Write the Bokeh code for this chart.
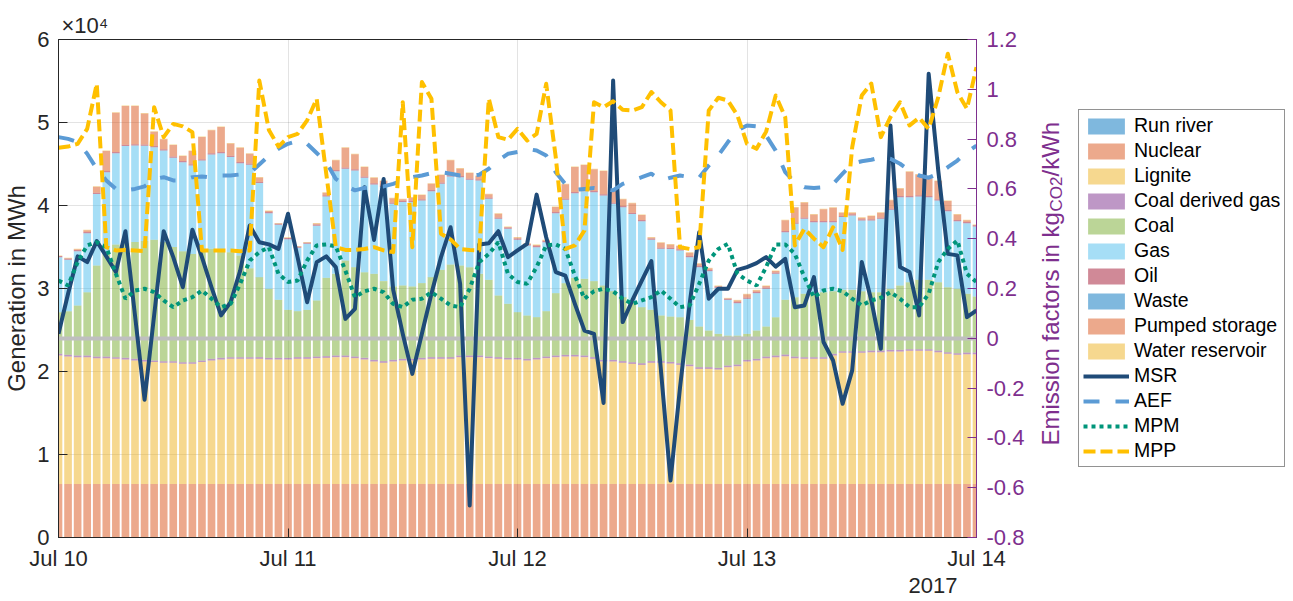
from math import pi
from bokeh.plotting import figure
from bokeh.layouts import row
from bokeh.models import (Range1d, LinearAxis, FixedTicker, Legend, LegendItem,
                          Title, Label, ColumnDataSource)
from bokeh.embed import file_html
from bokeh.resources import INLINE

FONT = "Liberation Sans"
DARK = "#262626"
PURPLE = "#7e2f8e"
NAN = float("nan")

# ---------------- data ----------------
hours = list(range(97))                      # hourly, Jul 10 00:00 .. Jul 14 00:00
day_ticks = [0, 24, 48, 72, 96]
day_labels = ["Jul 10", "Jul 11", "Jul 12", "Jul 13", "Jul 14"]
year_label = "2017"
exponent_label = "\u00d710\u2074"
right_title = ["Emission factors in kg", "CO2", "/kWh"]

left_ticks = [0, 10000, 20000, 30000, 40000, 50000, 60000]
left_tick_labels = ["0", "1", "2", "3", "4", "5", "6"]
right_ticks = [-0.8, -0.6, -0.4, -0.2, 0, 0.2, 0.4, 0.6, 0.8, 1.0, 1.2]
right_tick_labels = ["-0.8", "-0.6", "-0.4", "-0.2", "0", "0.2", "0.4", "0.6", "0.8", "1", "1.2"]
zero_level = [0]

run_river = [0] * 97
nuclear = [6450] * 97
lignite = [15480, 15360, 15280, 15280, 15160, 15160, 15080, 15000, 14880, 14760, 14680, 14600,
           14600, 14470, 14470, 14680, 14880, 15000, 15080, 15080, 15080, 15080, 15000, 15000,
           15000, 15080, 15080, 15160, 15200, 15280, 15280, 15160, 15000, 14760, 14600, 14760,
           14880, 14880, 15000, 15080, 15080, 15080, 15280, 15280, 15280, 15160, 15080, 15000,
           15000, 14880, 15000, 15160, 15280, 15360, 15360, 15280, 15080, 14760, 14760, 14600,
           14470, 14350, 14600, 14600, 14510, 14350, 14190, 13870, 13870, 13790, 14070, 14190,
           14760, 14880, 15160, 15280, 15400, 15160, 15080, 15080, 15080, 15480, 15800, 15800,
           15800, 15880, 15880, 15960, 15960, 16040, 16040, 16040, 15880, 15680, 15560, 15640, 15640]
coal_gas = [200] * 97
coal = [5020, 5260, 6020, 7630, 10960, 12370, 13570, 13820, 14060, 14300, 14540, 14340,
        13740, 13370, 13050, 13250, 13250, 13010, 12650, 12250, 10720, 9640, 8310, 6990,
        5780, 5540, 5700, 6750, 9440, 9840, 11450, 10760, 10320, 10360, 9640, 8840,
        8840, 8720, 9000, 9640, 10520, 11160, 10840, 10640, 9840, 9240, 7430, 6510,
        5500, 5220, 4900, 5460, 7510, 8630, 9280, 9240, 9160, 8960, 8270, 7710,
        7230, 6750, 6190, 5500, 5460, 5540, 5380, 4900, 4420, 4100, 3610, 3490,
        3130, 3410, 3610, 4620, 6590, 7150, 7630, 7710, 7830, 7550, 7390, 7390,
        7230, 7030, 7030, 7350, 7750, 8070, 8350, 8350, 8230, 7830, 7750, 7070, 6750]
gas = [6630, 6190, 6550, 7110, 8630, 9840, 11000, 11690, 11650, 11490, 11160, 11040,
       10760, 10720, 10640, 10840, 11370, 11650, 11450, 11120, 12450, 11330, 9120, 9040,
       8510, 7630, 7950, 9000, 9800, 12370, 11040, 11650, 11370, 10760, 11330, 9960,
       10040, 10160, 9960, 10360, 10360, 10600, 10640, 10520, 11250, 9760, 9240, 9040,
       8720, 8430, 8430, 8310, 9640, 10040, 10200, 10560, 10720, 10840, 10520, 10840,
       10640, 10360, 8430, 8030, 8150, 8030, 7550, 7150, 7150, 5540, 4300, 3900,
       4220, 4500, 4540, 5220, 8150, 8840, 9040, 8550, 8430, 8310, 8760, 8960,
       8510, 8630, 8840, 9520, 10640, 10240, 10040, 9960, 9840, 9160, 8150, 8510, 8430]
oil = [150] * 97
waste = [0] * 97
pumped = [0, 30, 70, 190, 710, 2400, 4730, 4690, 4610, 3730, 1720, 1200,
          1400, 590, 1600, 2680, 2760, 3000, 1480, 1720, 1200, 510, 110, 0,
          30, 0, 0, 110, 310, 1160, 2400, 1800, 1160, 670, 590, 510,
          190, 390, 510, 750, 910, 1800, 910, 670, 390, 390, 470, 70,
          110, 70, 110, 70, 590, 1720, 3000, 3000, 2600, 2800, 1600, 790,
          1120, 590, 110, 590, 390, 390, 390, 270, 190, 70, 30, 190,
          390, 190, 190, 190, 1280, 1800, 1800, 790, 1400, 1600, 390, 190,
          190, 390, 590, 1000, 910, 2920, 2520, 2120, 2200, 1080, 670, 190, 30]
reservoir = [60] * 97

msr = [0.018, 0.179, 0.329, 0.306, 0.390, 0.329, 0.266, 0.430, 0.092, -0.247, 0.092, 0.430,
       0.326, 0.205, 0.436, 0.326, 0.205, 0.092, 0.145, 0.272, 0.453, 0.386, 0.377, 0.359,
       0.500, 0.326, 0.145, 0.306, 0.329, 0.286, 0.078, 0.118, 0.607, 0.395, 0.640, 0.195,
       0.018, -0.143, 0.018, 0.179, 0.326, 0.446, 0.219, -0.671, 0.377, 0.382, 0.430, 0.326,
       0.353, 0.379, 0.577, 0.406, 0.266, 0.252, 0.138, 0.031, 0.018, -0.260, 1.035, 0.065,
       0.152, 0.232, 0.310, -0.129, -0.571, -0.196, 0.138, 0.426, 0.159, 0.199, 0.199, 0.275,
       0.286, 0.302, 0.326, 0.288, 0.319, 0.125, 0.132, 0.246, -0.015, -0.089, -0.263, -0.129,
       0.306, 0.152, -0.042, 0.855, 0.286, 0.266, 0.092, 1.062, 0.674, 0.339, 0.333, 0.085, 0.112]
aef = [0.808, 0.801, 0.788, 0.741, 0.681, 0.634, 0.600, 0.594, 0.600, 0.610, 0.640, 0.647,
       0.634, 0.634, 0.647, 0.650, 0.645, 0.654, 0.654, 0.658, 0.663, 0.698, 0.734, 0.761,
       0.781, 0.792, 0.781, 0.744, 0.707, 0.640, 0.614, 0.594, 0.604, 0.607, 0.610, 0.620,
       0.634, 0.647, 0.654, 0.663, 0.667, 0.661, 0.654, 0.653, 0.657, 0.681, 0.714, 0.741,
       0.748, 0.761, 0.754, 0.734, 0.667, 0.620, 0.596, 0.600, 0.604, 0.600, 0.594, 0.620,
       0.634, 0.647, 0.661, 0.634, 0.645, 0.654, 0.647, 0.645, 0.694, 0.734, 0.788, 0.835,
       0.855, 0.851, 0.814, 0.754, 0.667, 0.627, 0.607, 0.604, 0.607, 0.620, 0.661, 0.701,
       0.711, 0.717, 0.727, 0.721, 0.701, 0.674, 0.654, 0.645, 0.661, 0.687, 0.714, 0.748, 0.774]
mpm = [0.232, 0.212, 0.306, 0.373, 0.386, 0.366, 0.259, 0.159, 0.192, 0.199, 0.185, 0.152,
       0.125, 0.152, 0.165, 0.192, 0.159, 0.125, 0.138, 0.219, 0.312, 0.346, 0.366, 0.259,
       0.226, 0.232, 0.312, 0.373, 0.377, 0.369, 0.272, 0.165, 0.189, 0.199, 0.185, 0.138,
       0.125, 0.155, 0.159, 0.185, 0.159, 0.132, 0.125, 0.199, 0.306, 0.339, 0.386, 0.259,
       0.226, 0.219, 0.286, 0.373, 0.377, 0.359, 0.252, 0.159, 0.189, 0.199, 0.189, 0.159,
       0.138, 0.152, 0.165, 0.192, 0.159, 0.125, 0.132, 0.219, 0.312, 0.359, 0.379, 0.259,
       0.232, 0.212, 0.286, 0.377, 0.377, 0.339, 0.246, 0.165, 0.192, 0.199, 0.189, 0.159,
       0.132, 0.152, 0.163, 0.185, 0.159, 0.125, 0.125, 0.179, 0.306, 0.359, 0.393, 0.259, 0.226]
mpp = [0.765, 0.770, 0.781, 0.841, 1.022, 0.366, 0.353, 0.355, 0.353, 0.350, 0.928, 0.808,
       0.861, 0.851, 0.828, 0.353, 0.353, 0.353, 0.353, 0.350, 0.353, 1.035, 0.837, 0.770,
       0.808, 0.821, 0.875, 0.962, 0.661, 0.366, 0.355, 0.355, 0.359, 0.366, 0.353, 0.346,
       0.948, 0.366, 1.029, 0.962, 0.420, 0.397, 0.359, 0.355, 0.353, 0.962, 0.808, 0.797,
       0.841, 0.794, 0.821, 1.022, 0.727, 0.359, 0.373, 0.433, 0.948, 0.928, 0.952, 0.918,
       0.915, 0.928, 0.989, 0.948, 0.915, 0.366, 0.359, 0.366, 0.915, 0.966, 0.955, 0.895,
       0.781, 0.761, 0.830, 0.975, 0.888, 0.373, 0.440, 0.400, 0.366, 0.446, 0.355, 0.767,
       0.975, 1.023, 0.808, 0.888, 0.948, 0.855, 0.886, 0.841, 0.968, 1.143, 0.988, 0.922, 1.089]

stack_names = ["Run river", "Nuclear", "Lignite", "Coal derived gas", "Coal", "Gas",
               "Oil", "Waste", "Pumped storage", "Water reservoir"]
stack_keys = ["run_river", "nuclear", "lignite", "coal_gas", "coal", "gas",
              "oil", "waste", "pumped", "reservoir"]
stack_colors = ["#0072bd", "#d95319", "#edb120", "#7e2f8e", "#77ac30", "#4dbeee",
                "#a2142f", "#0072bd", "#d95319", "#edb120"]

line_names = ["MSR", "AEF", "MPM", "MPP"]
line_series = [msr, aef, mpm, mpp]
line_styles = [dict(line_color="#1f4b78", line_width=4, line_join="round"),
               dict(line_color="#5b9bd5", line_width=4, line_dash="16 16"),
               dict(line_color="#00957a", line_width=4, line_dash="4 4"),
               dict(line_color="#ffc000", line_width=4, line_dash="12 5", line_join="round")]

source = ColumnDataSource(dict(x=hours, run_river=run_river, nuclear=nuclear, lignite=lignite,
                               coal_gas=coal_gas, coal=coal, gas=gas, oil=oil, waste=waste,
                               pumped=pumped, reservoir=reservoir))

# ---------------- main figure ----------------
p = figure(frame_width=918, frame_height=498,
           min_border_left=57, min_border_right=60, min_border_top=39, min_border_bottom=62,
           x_range=Range1d(0, 96), y_range=Range1d(0, 60000),
           output_backend="svg", toolbar_location=None)
p.extra_y_ranges = {"right": Range1d(-0.8, 1.2)}
p.background_fill_color = "white"
p.border_fill_color = "white"
p.outline_line_color = DARK
p.outline_line_width = 1

p.title.text = exponent_label
p.title.align = "left"
p.title.offset = 3
p.title.standoff = 4
p.title.text_font = FONT
p.title.text_font_size = "22px"
p.title.text_font_style = "normal"
p.title.text_color = DARK

p.vbar_stack(stack_keys, x="x", width=0.8, source=source,
             fill_color=stack_colors, fill_alpha=0.5, line_color=None)
p.hspan(y=zero_level, y_range_name="right", line_color="#bfbfbf", line_width=4)
for series, style in zip(line_series, line_styles):
    p.line(hours, series, y_range_name="right", **style)

p.xgrid.ticker = FixedTicker(ticks=day_ticks)
p.ygrid.ticker = FixedTicker(ticks=left_ticks)
for g in (p.xgrid[0], p.ygrid[0]):
    g.grid_line_color = DARK
    g.grid_line_alpha = 0.13

la = p.left[0]
la.ticker = FixedTicker(ticks=left_ticks)
la.major_label_overrides = dict(zip(left_ticks, left_tick_labels))
la.axis_label = "Generation in MWh"
la.axis_label_text_font = FONT
la.axis_label_text_font_size = "24px"
la.axis_label_text_font_style = "normal"
la.axis_label_text_color = DARK
la.axis_label_standoff = 4
la.major_label_text_font = FONT
la.major_label_text_font_size = "22px"
la.major_label_text_color = DARK
la.major_label_standoff = 9
la.major_tick_in = 9
la.major_tick_out = 0
la.minor_tick_line_color = None
la.axis_line_color = DARK
la.major_tick_line_color = DARK

ba = p.below[0]
ba.ticker = FixedTicker(ticks=day_ticks)
ba.major_label_overrides = dict(zip(day_ticks, day_labels))
ba.major_label_text_font = FONT
ba.major_label_text_font_size = "22px"
ba.major_label_text_color = DARK
ba.major_label_standoff = 8
ba.major_tick_in = 9
ba.major_tick_out = 0
ba.minor_tick_line_color = None
ba.axis_line_color = DARK
ba.major_tick_line_color = DARK

year = Title(text=year_label, align="right", offset=19, standoff=5, text_font=FONT,
             text_font_size="22px", text_font_style="normal", text_color=DARK)
p.add_layout(year, "below")

ra = LinearAxis(y_range_name="right", ticker=FixedTicker(ticks=right_ticks))
ra.major_label_overrides = dict(zip(right_ticks, right_tick_labels))
ra.major_label_text_font = FONT
ra.major_label_text_font_size = "22px"
ra.major_label_text_color = PURPLE
ra.major_label_standoff = 10
ra.major_tick_in = 9
ra.major_tick_out = 0
ra.minor_tick_line_color = None
ra.axis_line_color = PURPLE
ra.major_tick_line_color = PURPLE
p.add_layout(ra, "right")

# ---------------- side panel: right-axis title and legend ----------------
# its frame is aligned with the main frame (same top/bottom), pixel-sized ranges
side_w = 258
q = figure(frame_width=side_w, frame_height=498,
           min_border_left=0, min_border_right=0, min_border_top=39, min_border_bottom=62,
           x_range=Range1d(0, side_w), y_range=Range1d(0, 498),
           x_axis_location=None, y_axis_location=None,
           output_backend="svg", toolbar_location=None)
q.grid.visible = False
q.outline_line_color = None
q.background_fill_color = "white"
q.border_fill_color = "white"

title_parts = [(14, 92, right_title[0], "24px"),
               (20, 326, right_title[1], "17px"),
               (14, 361, right_title[2], "24px")]
for tx, ty, txt, size in title_parts:
    q.add_layout(Label(x=tx, y=ty, angle=pi / 2, text=txt, text_font=FONT,
                       text_font_size=size, text_color=PURPLE,
                       text_align="left", text_baseline="alphabetic"))

items = []
for name, color in zip(stack_names, stack_colors):
    r = q.vbar(x=[NAN], top=[NAN], width=0.8, fill_color=color, fill_alpha=0.5,
               line_color=None)
    items.append(LegendItem(label=name, renderers=[r]))
for name, style in zip(line_names, line_styles):
    r = q.line(x=[NAN], y=[NAN], **style)
    items.append(LegendItem(label=name, renderers=[r]))

legend = Legend(items=items, location=(42, 70), orientation="vertical",
                border_line_color=DARK, border_line_width=1, background_fill_color="white",
                background_fill_alpha=1, padding=4, spacing=2, margin=0,
                glyph_height=20, glyph_width=46, label_height=20, label_standoff=5,
                label_text_font=FONT, label_text_font_size="19.5px", label_text_color="black")
q.add_layout(legend)

layout = row(p, q, spacing=0)
open("out.html", "w").write(file_html(layout, INLINE))
